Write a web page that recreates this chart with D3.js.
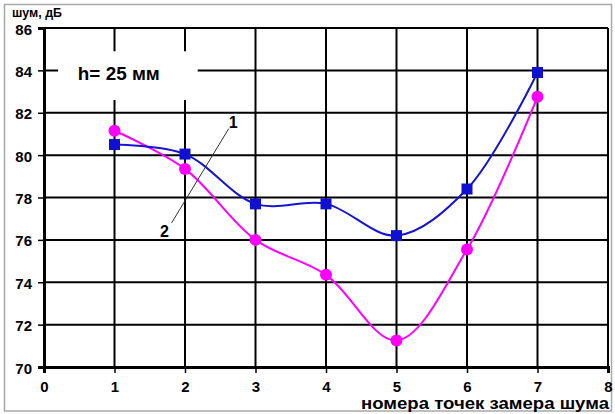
<!DOCTYPE html>
<html>
<head>
<meta charset="utf-8">
<script src="https://cdn.jsdelivr.net/npm/d3@7"></script>
<style>
  html, body { margin: 0; padding: 0; background: #fff; }
  svg { display: block; }
  text { font-family: "Liberation Sans", Arial, sans-serif; font-weight: bold; fill: #000; }
</style>
</head>
<body>
<svg id="chart" width="615" height="414"></svg>
<script>
// Measurement points and noise levels, dB
const points = [1, 2, 3, 4, 5, 6, 7];
const series1 = [80.5, 80.05, 77.7, 77.7, 76.2, 78.4, 83.9];
const series2 = [81.15, 79.35, 76.0, 74.35, 71.25, 75.55, 82.75];
const xTicks = [0, 1, 2, 3, 4, 5, 6, 7, 8];
const yTicks = [70, 72, 74, 76, 78, 80, 82, 84, 86];

const svg = d3.select("#chart");

// outer frame
svg.append("rect").attr("x", 4.5).attr("y", 4.5).attr("width", 607).attr("height", 406.5)
  .attr("fill", "#fff").attr("stroke", "#a8a8a8").attr("stroke-width", 1.5);

const plotL = 44, plotR = 608, plotT = 28, plotB = 367;
const x = d3.scaleLinear().domain([0, 8]).range([plotL, plotR]);
const y = d3.scaleLinear().domain([70, 86]).range([plotB, plotT]);

// grid
const grid = svg.append("g").attr("stroke", "#000").attr("stroke-width", 2);
grid.selectAll("line.v").data(xTicks.slice(1)).join("line").attr("class", "v")
  .attr("x1", d => x(d)).attr("x2", d => x(d)).attr("y1", plotT).attr("y2", plotB);
grid.selectAll("line.h").data(yTicks.slice(1)).join("line").attr("class", "h")
  .attr("x1", plotL).attr("x2", plotR).attr("y1", d => y(d)).attr("y2", d => y(d));

// axes
const xAxis = svg.append("g").attr("transform", `translate(0,${plotB})`)
  .call(d3.axisBottom(x).tickValues(xTicks).tickSize(6).tickPadding(5).tickFormat(d3.format("d")));
const yAxis = svg.append("g").attr("transform", `translate(${plotL},0)`)
  .call(d3.axisLeft(y).tickValues(yTicks).tickSize(6).tickPadding(6).tickFormat(d3.format("d")));
[xAxis, yAxis].forEach(a => {
  a.select(".domain").attr("stroke", "#000").attr("stroke-width", 3);
  a.selectAll(".tick line").attr("stroke", "#000").attr("stroke-width", 1.5);
  a.selectAll(".tick text").attr("font-size", 15).attr("font-family", "Liberation Sans, Arial, sans-serif")
    .attr("font-weight", "bold").attr("fill", "#000");
});
xAxis.selectAll(".tick text").attr("dy", "0.95em");
yAxis.selectAll(".tick text").attr("dy", "0.4em");

// label box
const box = { x0: 0.2, x1: 2.18, y0: 84.9, y1: 82.6 };
svg.append("rect").attr("x", x(box.x0)).attr("y", y(box.y0))
  .attr("width", x(box.x1) - x(box.x0)).attr("height", y(box.y1) - y(box.y0)).attr("fill", "#fff");
svg.append("text").attr("x", x(0.48)).attr("y", y(83.55)).attr("font-size", 18)
  .attr("textLength", 82).attr("lengthAdjust", "spacingAndGlyphs").text("h= 25 мм");

// curves
const line = d3.line().x((d, i) => x(points[i])).y(d => y(d)).curve(d3.curveCatmullRom.alpha(0.5));
svg.append("path").datum(series2).attr("d", line).attr("fill", "none")
  .attr("stroke", "#ff00ff").attr("stroke-width", 2);
svg.append("path").datum(series1).attr("d", line).attr("fill", "none")
  .attr("stroke", "#1414d2").attr("stroke-width", 2);

svg.append("g").selectAll("circle").data(series2).join("circle")
  .attr("cx", (d, i) => x(points[i])).attr("cy", d => y(d)).attr("r", 6).attr("fill", "#ff00ff");
svg.append("g").selectAll("rect").data(series1).join("rect")
  .attr("x", (d, i) => x(points[i]) - 5.5).attr("y", d => y(d) - 5.5)
  .attr("width", 11).attr("height", 11).attr("fill", "#1010d0");

// series labels with leader line
svg.append("line").attr("x1", x(2.62)).attr("y1", y(81.25)).attr("x2", x(1.81)).attr("y2", y(76.8))
  .attr("stroke", "#333").attr("stroke-width", 1);
svg.append("text").attr("x", x(2.62)).attr("y", y(81.28)).attr("font-size", 16).text("1");
svg.append("text").attr("x", x(1.645)).attr("y", y(76.14)).attr("font-size", 16).text("2");

// axis titles
svg.append("text").attr("x", 12).attr("y", 17).attr("font-size", 13)
  .attr("textLength", 50).attr("lengthAdjust", "spacingAndGlyphs").text("шум, дБ");
svg.append("text").attr("x", 361).attr("y", 409).attr("font-family", "DejaVu Sans, sans-serif")
  .attr("font-size", 17).attr("textLength", 248).attr("lengthAdjust", "spacingAndGlyphs")
  .text("номера точек замера шума");
</script>
</body>
</html>
